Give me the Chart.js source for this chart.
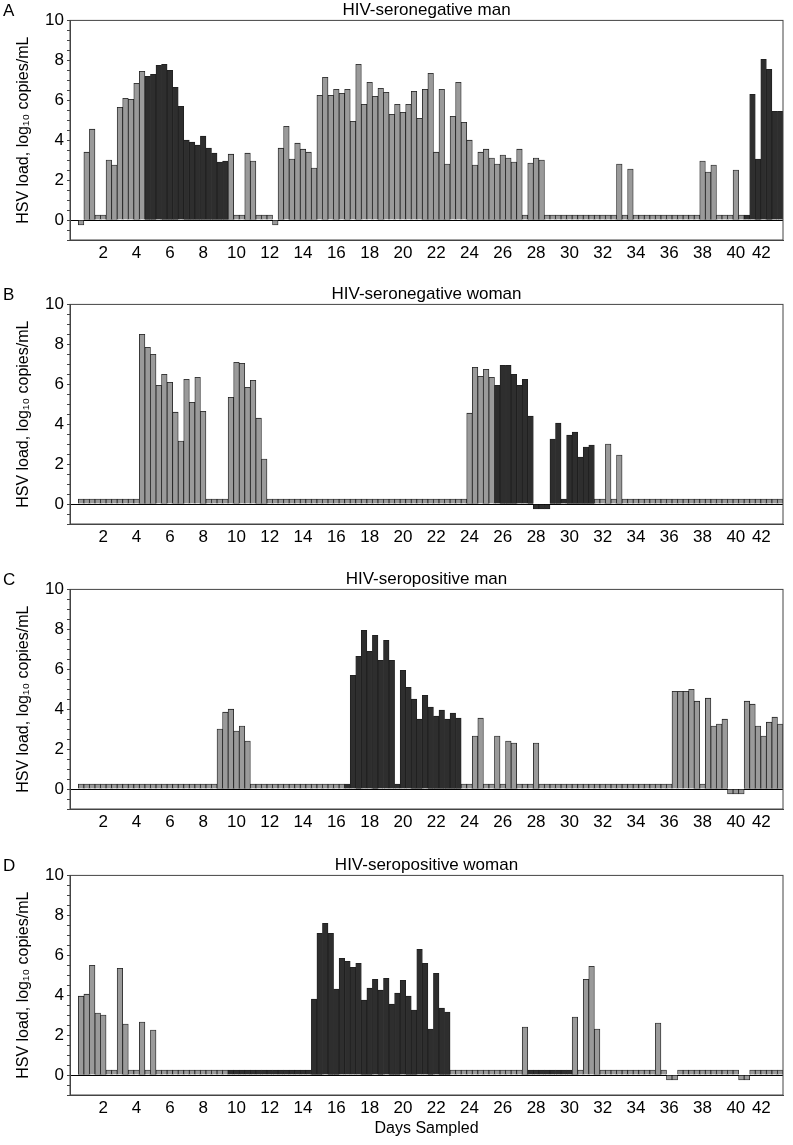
<!DOCTYPE html>
<html>
<head>
<meta charset="utf-8">
<script src="https://cdn.jsdelivr.net/npm/chart.js@4.4.1/dist/chart.umd.min.js"></script>
<style>
  body { margin: 0; background: #fff; }
  .panel { position: absolute; left: 0; width: 793px; }
  .letter { position: absolute; left: 3px; font: 17px "Liberation Sans", Arial, sans-serif; color: #000; }
</style>
</head>
<body>
<div class="panel" style="top:0px;height:270px"><canvas id="chartA"></canvas></div>
<div class="panel" style="top:284px;height:270px"><canvas id="chartB"></canvas></div>
<div class="panel" style="top:569px;height:270px"><canvas id="chartC"></canvas></div>
<div class="panel" style="top:855px;height:290px"><canvas id="chartD"></canvas></div>
<div class="letter" style="top:1px">A</div>
<div class="letter" style="top:285px">B</div>
<div class="letter" style="top:570px">C</div>
<div class="letter" style="top:856px">D</div>

<script>
// ---------------------------------------------------------- DATA ----------------------------------------------------------

// x-axis tick labels (days) and the sample position they sit under
const dayLabels = [2, 4, 6, 8, 10, 12, 14, 16, 18, 20, 22, 24, 26, 28, 30, 32, 34, 36, 38, 40, 42];
const dayTickPos = [4, 10, 16, 22, 28, 34, 40, 46, 52, 58, 64, 70, 76, 82, 88, 94, 100, 106, 112, 118, 122.6];

// HSV load per sample (log10 copies/mL), 127 samples per person
const hsvA = [
  -0.25, 3.4, 4.55, 0.25, 0.25, 3.0, 2.75, 5.65, 6.1, 6.05,
  6.85, 7.45, 7.2, 7.3, 7.75, 7.8, 7.5, 6.65, 5.7, 4.0,
  3.9, 3.75, 4.2, 3.6, 3.35, 2.9, 2.95, 3.3, 0.25, 0.25,
  3.35, 2.95, 0.25, 0.25, 0.25, -0.25, 3.6, 4.7, 3.05, 3.85,
  3.55, 3.4, 2.6, 6.25, 7.15, 6.25, 6.55, 6.35, 6.55, 4.95,
  7.8, 5.8, 6.9, 6.2, 6.6, 6.4, 5.3, 5.8, 5.4, 5.8,
  6.45, 5.1, 6.55, 7.35, 3.4, 6.55, 2.8, 5.2, 6.9, 4.9,
  4.0, 2.75, 3.4, 3.55, 3.1, 2.8, 3.25, 3.1, 2.9, 3.55,
  0.25, 2.85, 3.1, 3.0, 0.25, 0.25, 0.25, 0.25, 0.25, 0.25,
  0.25, 0.25, 0.25, 0.25, 0.25, 0.25, 0.25, 2.8, 0.25, 2.55,
  0.25, 0.25, 0.25, 0.25, 0.25, 0.25, 0.25, 0.25, 0.25, 0.25,
  0.25, 0.25, 2.95, 2.4, 2.75, 0.25, 0.25, 0.25, 2.5, 0.25,
  0.25, 6.3, 3.05, 8.05, 7.55, 5.45, 5.45
];

const hsvB = [
  0.25, 0.25, 0.25, 0.25, 0.25, 0.25, 0.25, 0.25, 0.25, 0.25,
  0.25, 8.5, 7.85, 7.5, 5.95, 6.5, 6.1, 4.6, 3.15, 6.25,
  5.1, 6.35, 4.65, 0.25, 0.25, 0.25, 0.25, 5.35, 7.1, 7.05,
  5.85, 6.2, 4.3, 2.25, 0.25, 0.25, 0.25, 0.25, 0.25, 0.25,
  0.25, 0.25, 0.25, 0.25, 0.25, 0.25, 0.25, 0.25, 0.25, 0.25,
  0.25, 0.25, 0.25, 0.25, 0.25, 0.25, 0.25, 0.25, 0.25, 0.25,
  0.25, 0.25, 0.25, 0.25, 0.25, 0.25, 0.25, 0.25, 0.25, 0.25,
  4.55, 6.85, 6.4, 6.75, 6.35, 5.95, 6.95, 6.95, 6.5, 5.95,
  6.25, 4.4, -0.25, -0.25, -0.25, 3.25, 4.05, 0.25, 3.45, 3.6,
  2.35, 2.85, 2.95, 0.25, 0.25, 3.0, 0.25, 2.45, 0.25, 0.25,
  0.25, 0.25, 0.25, 0.25, 0.25, 0.25, 0.25, 0.25, 0.25, 0.25,
  0.25, 0.25, 0.25, 0.25, 0.25, 0.25, 0.25, 0.25, 0.25, 0.25,
  0.25, 0.25, 0.25, 0.25, 0.25, 0.25, 0.25
];

const hsvC = [
  0.25, 0.25, 0.25, 0.25, 0.25, 0.25, 0.25, 0.25, 0.25, 0.25,
  0.25, 0.25, 0.25, 0.25, 0.25, 0.25, 0.25, 0.25, 0.25, 0.25,
  0.25, 0.25, 0.25, 0.25, 0.25, 3.0, 3.85, 4.0, 2.9, 3.15,
  2.4, 0.25, 0.25, 0.25, 0.25, 0.25, 0.25, 0.25, 0.25, 0.25,
  0.25, 0.25, 0.25, 0.25, 0.25, 0.25, 0.25, 0.25, 0.25, 5.7,
  6.65, 7.95, 6.9, 7.7, 6.45, 7.45, 6.45, 0.25, 5.95, 5.1,
  4.5, 3.5, 4.7, 4.1, 3.65, 3.95, 3.5, 3.8, 3.55, 0.25,
  0.25, 2.65, 3.55, 0.25, 0.25, 2.65, 0.25, 2.4, 2.3, 0.25,
  0.25, 0.25, 2.3, 0.25, 0.25, 0.25, 0.25, 0.25, 0.25, 0.25,
  0.25, 0.25, 0.25, 0.25, 0.25, 0.25, 0.25, 0.25, 0.25, 0.25,
  0.25, 0.25, 0.25, 0.25, 0.25, 0.25, 0.25, 4.9, 4.9, 4.9,
  5.0, 4.4, 0.25, 4.55, 3.15, 3.25, 3.5, -0.25, -0.25, -0.25,
  4.4, 4.25, 3.15, 2.65, 3.35, 3.6, 3.25
];

const hsvD = [
  3.95, 4.05, 5.5, 3.1, 3.0, 0.25, 0.25, 5.35, 2.55, 0.25,
  0.25, 2.65, 0.25, 2.25, 0.25, 0.25, 0.25, 0.25, 0.25, 0.25,
  0.25, 0.25, 0.25, 0.25, 0.25, 0.25, 0.25, 0.25, 0.25, 0.25,
  0.25, 0.25, 0.25, 0.25, 0.25, 0.25, 0.25, 0.25, 0.25, 0.25,
  0.25, 0.25, 3.8, 7.1, 7.6, 7.1, 4.3, 5.85, 5.7, 5.4,
  5.6, 3.75, 4.35, 4.8, 4.25, 4.85, 3.55, 4.1, 4.75, 3.95,
  3.25, 6.3, 5.6, 2.3, 5.1, 3.35, 3.15, 0.25, 0.25, 0.25,
  0.25, 0.25, 0.25, 0.25, 0.25, 0.25, 0.25, 0.25, 0.25, 0.25,
  2.4, 0.25, 0.25, 0.25, 0.25, 0.25, 0.25, 0.25, 0.25, 2.9,
  0.25, 4.8, 5.45, 2.3, 0.25, 0.25, 0.25, 0.25, 0.25, 0.25,
  0.25, 0.25, 0.25, 0.25, 2.6, 0.25, -0.25, -0.25, 0.25, 0.25,
  0.25, 0.25, 0.25, 0.25, 0.25, 0.25, 0.25, 0.25, 0.25, -0.25,
  -0.25, 0.25, 0.25, 0.25, 0.25, 0.25, 0.25
];

// sample index ranges drawn dark (lesion episodes)
const lesionA = [[12, 26], [120, 126]];
const lesionB = [[75, 92]];
const lesionC = [[48, 68]];
const lesionD = [[27, 66], [81, 88]];

// ---------------------------------------------------------- STYLE ----------------------------------------------------------

const FONT = '"Liberation Sans", Arial, Helvetica, sans-serif';
const GRAY = '#9a9a9a';
const DARK = '#2e2e2e';
const EDGE = '#1e1e1e';
const AXIS = '#444';

function inLesion(i, ranges) {
    return ranges.some(r => i >= r[0] && i <= r[1]);
}

// box round the plot area
const framePlugin = {
    id: 'frame',
    afterDraw(chart) {
        const { ctx, chartArea: a } = chart;
        ctx.save();
        ctx.strokeStyle = AXIS;
        ctx.lineWidth = 1;
        ctx.strokeRect(a.left, a.top, a.right - a.left, a.bottom - a.top);
        ctx.restore();
    }
};

function makePanel(id, title, values, lesions, showXTitle) {
    const ctx = document.getElementById(id).getContext('2d');
    return new Chart(ctx, {
        type: 'bar',
        data: {
            datasets: [{
                data: values.map((v, i) => ({ x: i, y: v })),
                backgroundColor: c => inLesion(c.dataIndex, lesions) ? DARK : GRAY,
                borderColor: EDGE,
                borderWidth: 0.8,
                barPercentage: 1,
                categoryPercentage: 1
            }]
        },
        options: {
            responsive: true,
            maintainAspectRatio: false,
            animation: false,
            layout: { padding: { left: 0, right: 10, top: 0, bottom: 0 } },
            plugins: {
                legend: { display: false },
                tooltip: { enabled: false },
                title: {
                    display: true,
                    text: title,
                    fullSize: false,
                    color: '#000',
                    font: { family: FONT, size: 17, weight: 'normal' },
                    padding: { top: 0, bottom: 0 }
                }
            },
            scales: {
                x: {
                    type: 'linear',
                    min: -2,
                    max: 126.5,
                    offset: false,
                    afterBuildTicks: s => { s.ticks = dayTickPos.map(v => ({ value: v })); },
                    afterFit: s => { s.height = showXTitle ? 50 : 30; },
                    ticks: {
                        autoSkip: false,
                        maxRotation: 0,
                        padding: 3,
                        color: '#000',
                        font: { family: FONT, size: 17 },
                        callback: (v, i) => dayLabels[i]
                    },
                    grid: { display: false, drawTicks: false, offset: false },
                    border: { display: true, color: AXIS },
                    title: {
                        display: showXTitle,
                        text: 'Days Sampled',
                        color: '#000',
                        font: { family: FONT, size: 16 },
                        padding: { top: 0, bottom: 7 }
                    }
                },
                y: {
                    min: -1,
                    max: 10,
                    afterFit: s => { s.width = 70; },
                    ticks: {
                        stepSize: 0.5,
                        autoSkip: false,
                        padding: 3,
                        color: '#000',
                        font: { family: FONT, size: 17 },
                        callback: v => (v >= 0 && v % 2 === 0) ? v : ''
                    },
                    grid: {
                        drawOnChartArea: true,
                        drawTicks: true,
                        tickLength: 3,
                        tickColor: AXIS,
                        color: c => (c.tick && c.tick.value === 0) ? '#000' : 'rgba(0,0,0,0)'
                    },
                    border: { display: true, color: AXIS },
                    title: {
                        display: true,
                        text: 'HSV load, log\u2081\u2080 copies/mL',
                        color: '#000',
                        font: { family: FONT, size: 16 },
                        padding: { top: 14, bottom: 0 }
                    }
                }
            }
        },
        plugins: [framePlugin]
    });
}

makePanel('chartA', 'HIV-seronegative man', hsvA, lesionA, false);
makePanel('chartB', 'HIV-seronegative woman', hsvB, lesionB, false);
makePanel('chartC', 'HIV-seropositive man', hsvC, lesionC, false);
makePanel('chartD', 'HIV-seropositive woman', hsvD, lesionD, true);
</script>
</body>
</html>
